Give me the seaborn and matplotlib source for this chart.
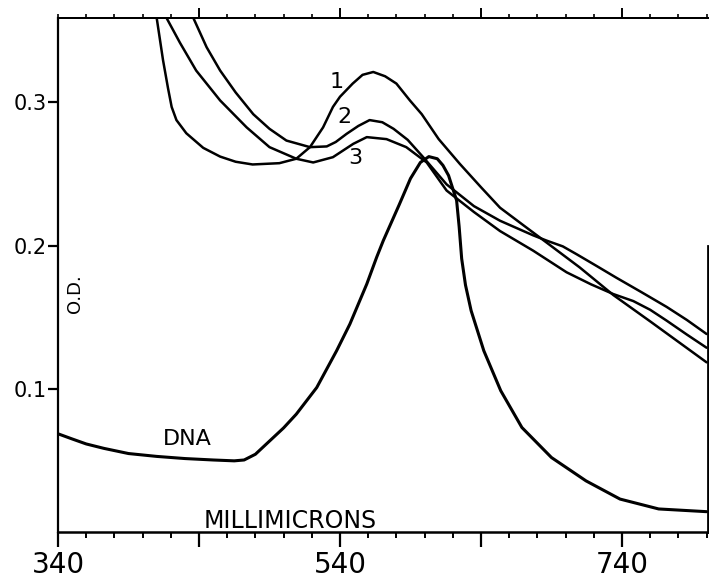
import matplotlib
matplotlib.use("Agg")
import matplotlib.pyplot as plt
from matplotlib.ticker import MultipleLocator
import pandas as pd
import seaborn as sns

# Apply Seaborn theme, then force pure black text/ticks like the scan
sns.set_theme(style="ticks")
plt.rcParams['font.family'] = ['DejaVu Sans']
plt.rcParams['text.color'] = 'black'
plt.rcParams['xtick.color'] = 'black'
plt.rcParams['ytick.color'] = 'black'
plt.rcParams['axes.edgecolor'] = 'black'

# Wavelength (millimicrons) and O.D.
wl_1 = [410, 414.5, 418, 420.6, 424, 431, 443, 455, 466, 478, 497, 509, 518.7, 528, 535, 540,
        549, 556, 563.6, 572, 580, 589.6, 598, 610, 625, 640, 653.5, 670, 686.6, 710, 734, 760,
        780, 800]
od_1 = [0.359, 0.3295, 0.3101, 0.2969, 0.2877, 0.2785, 0.2683, 0.2622, 0.2586, 0.2567, 0.2576,
        0.2607, 0.2688, 0.2826, 0.2969, 0.3040, 0.3132, 0.3193, 0.3213, 0.3183, 0.3132, 0.3014,
        0.2918, 0.2744, 0.2571, 0.2408, 0.2265, 0.2143, 0.2021, 0.1848, 0.1654, 0.1471, 0.1328,
        0.1185]

wl_2 = [436, 445.4, 455, 466, 478.5, 490, 502, 518.7, 530.6, 537, 544.7, 553, 561, 570, 578,
        588, 599, 615.6, 635, 653.5, 677, 686.6, 698, 708, 722, 736, 754, 771.7, 786, 800]
od_2 = [0.359, 0.3386, 0.3223, 0.3070, 0.2918, 0.2816, 0.2734, 0.2688, 0.2693, 0.2724, 0.2781,
        0.2836, 0.2877, 0.2862, 0.2816, 0.2739, 0.2618, 0.2428, 0.2276, 0.2174, 0.2072, 0.2035,
        0.1995, 0.1939, 0.1858, 0.1776, 0.1674, 0.1572, 0.1481, 0.1383]

wl_3 = [417, 426.5, 438, 455, 473.8, 490, 509, 521, 535, 549.4, 559, 573, 587, 601.5, 615.6,
        635, 653.5, 677, 700.7, 718, 733.8, 748, 760, 771.7, 786, 800]
od_3 = [0.359, 0.3417, 0.3223, 0.3014, 0.2826, 0.2688, 0.2607, 0.2581, 0.2618, 0.2711, 0.2758,
        0.2744, 0.2688, 0.2581, 0.2385, 0.2235, 0.2102, 0.1965, 0.1814, 0.1730, 0.1662, 0.1613,
        0.1552, 0.1476, 0.1379, 0.1287]

wl_dna = [340, 350, 360, 372.6, 390, 410, 430, 450, 465, 472, 480, 490, 500, 509, 523.5, 537.6,
          547, 559, 566, 570.7, 582, 590, 597, 603, 609, 613, 617, 620, 622.7, 624.5, 626.3, 629,
          633, 642, 654, 669, 690, 714.5, 738.6, 766, 800]
od_dna = [0.0686, 0.0650, 0.0615, 0.0584, 0.0548, 0.0528, 0.0513, 0.0503, 0.0497, 0.0503, 0.0543,
          0.0635, 0.0727, 0.0823, 0.1009, 0.1266, 0.1452, 0.1732, 0.1919, 0.2035, 0.2286, 0.2469,
          0.2581, 0.2622, 0.2607, 0.2561, 0.2490, 0.2398, 0.2316, 0.2133, 0.1909, 0.1725, 0.1546,
          0.1266, 0.0987, 0.0730, 0.0520, 0.0357, 0.0230, 0.0161, 0.0142]

curves = {
    "1": (wl_1, od_1, 1.8),
    "2": (wl_2, od_2, 1.8),
    "3": (wl_3, od_3, 1.8),
    "DNA": (wl_dna, od_dna, 2.2),
}

# Label anchors (wavelength, O.D.)
curve_labels = ["1", "2", "3", "DNA"]
label_wl = [537.9, 543.5, 550.6, 432]
label_od = [0.3142, 0.2897, 0.2612, 0.065]

x_ticks = [340, 440, 540, 640, 740]
x_tick_labels = ["340", "", "540", "", "740"]
y_ticks = [0.1, 0.2, 0.3]
y_tick_labels = ["0.1", "0.2", "0.3"]

fig = plt.figure(figsize=(7.09, 5.79), dpi=100)
ax = fig.add_axes([58 / 709, 47 / 579, 650 / 709, 514 / 579])

for name, (wl, od, lw) in curves.items():
    df = pd.DataFrame({"wl": wl, "od": od})
    sns.lineplot(data=df, x="wl", y="od", color="black", linewidth=lw,
                 estimator=None, sort=False, ax=ax)

for lab, lx, ly in zip(curve_labels, label_wl, label_od):
    ax.text(lx, ly, lab, fontsize=16, ha="center", va="center", color="black")

ax.text(504.5, 0.008, "MILLIMICRONS", fontsize=17, ha="center", va="center", color="black")
ax.text(352, 0.1664, "O.D.", fontsize=13, rotation=90, ha="center", va="center", color="black")

ax.set_xlim(340, 801)
ax.set_ylim(0, 0.359)
ax.set_xlabel("")
ax.set_ylabel("")

ax.set_xticks(x_ticks)
ax.set_xticklabels(x_tick_labels, fontsize=20)
ax.xaxis.set_minor_locator(MultipleLocator(20))
ax.set_yticks(y_ticks)
ax.set_yticklabels(y_tick_labels, fontsize=15)

ax.tick_params(axis="x", which="major", direction="out", length=11, width=1.6, pad=3,
               bottom=True, top=False)
ax.tick_params(axis="x", which="minor", direction="out", length=4, width=1.4,
               bottom=True, top=False)
ax.tick_params(axis="y", which="major", direction="out", length=7, width=1.6, pad=1)

# top axis: ticks only, pointing up
top = ax.secondary_xaxis("top")
top.set_xticks(x_ticks[1:])
top.set_xticklabels([])
top.xaxis.set_minor_locator(MultipleLocator(20))
top.tick_params(axis="x", which="major", direction="out", length=7, width=1.4)
top.tick_params(axis="x", which="minor", direction="out", length=3, width=1.2)
top.spines["top"].set_linewidth(1.4)

ax.spines["left"].set_linewidth(1.6)
ax.spines["bottom"].set_linewidth(1.8)
ax.spines["top"].set_linewidth(1.4)
ax.spines["right"].set_linewidth(2.0)
ax.spines["right"].set_bounds(0, 0.2)
for s in ax.spines.values():
    s.set_color("black")

fig.savefig("out.png", dpi=100)
